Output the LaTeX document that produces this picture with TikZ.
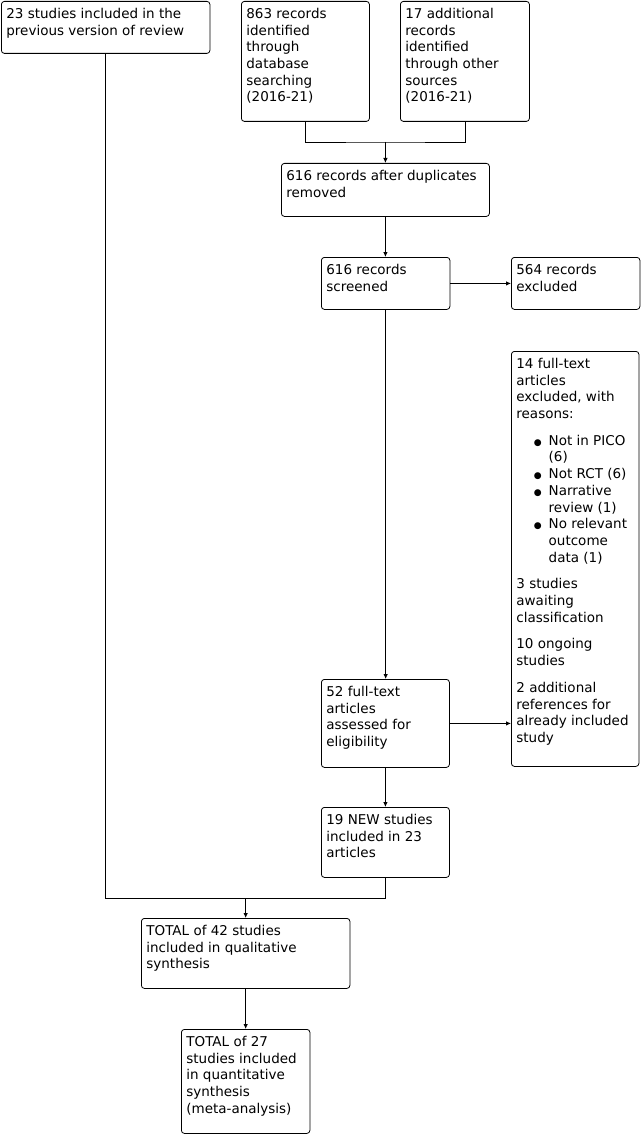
\documentclass[tikz,border=0pt]{standalone}
\usepackage{fontspec}
\setmainfont{DejaVu Sans}
\usetikzlibrary{arrows.meta}
\newcommand{\bxt}[3]{\parbox[c][#2][t]{#1}{\raggedright\leftskip=5pt\relax\rule{0pt}{17pt}#3}}
\newcommand{\bul}{\hspace*{17.5pt}\makebox[14.8pt][l]{{\fontsize{9}{9}\selectfont ●}}}
\newcommand{\bulc}{\hspace*{32.3pt}}
\begin{document}
\begin{tikzpicture}[x=1pt,y=-1pt,
  box/.style={draw, line width=0.8pt, rounded corners=3pt, inner sep=0pt, anchor=north west,
    font=\fontsize{13.5}{16.7}\selectfont},
  arr/.style={line width=0.8pt, -{Latex[length=5pt,width=4.5pt]}},
  ln/.style={line width=0.8pt}]
\useasboundingbox (0,0) rectangle (642,1134);
\node[box] (A) at (1,1) {\bxt{208.5pt}{52pt}{23 studies included in the\\previous version of review}};
\node[box] (B) at (241,1) {\bxt{128pt}{120pt}{863 records\\identified\\through\\database\\searching\\(2016-21)}};
\node[box] (C) at (400,1) {\bxt{129pt}{120pt}{17 additional\\records\\identified\\through other\\sources\\(2016-21)}};
\node[box] (D) at (281,163) {\bxt{208pt}{53pt}{616 records after duplicates\\removed}};
\node[box] (E) at (321,257) {\bxt{128.5pt}{52pt}{616 records\\screened}};
\node[box] (F) at (511,257) {\bxt{128.5pt}{52pt}{564 records\\excluded}};
\node[box] (G) at (511,351) {\bxt{127.5pt}{415pt}{14 full-text\\articles\\excluded, with\\reasons:\\[10pt]
\bul Not in PICO\\\bulc(6)\\
\bul Not RCT (6)\\
\bul Narrative\\\bulc review (1)\\
\bul No relevant\\\bulc outcome\\\bulc data (1)\\[10pt]
3 studies\\awaiting\\classification\\[10pt]
10 ongoing\\studies\\[10pt]
2 additional\\references for\\already included\\study}};
\node[box] (H) at (321,679) {\bxt{128pt}{88pt}{52 full-text\\articles\\assessed for\\eligibility}};
\node[box] (I) at (321,807) {\bxt{128pt}{70pt}{19 NEW studies\\included in 23\\articles}};
\node[box] (J) at (141,918) {\bxt{208.5pt}{70pt}{TOTAL of 42 studies\\included in qualitative\\synthesis}};
\node[box] (K) at (181,1029) {\bxt{128.5pt}{104pt}{TOTAL of 27\\studies included\\in quantitative\\synthesis\\(meta-analysis)}};
\coordinate (m1) at (D.north |- 0,142);
\coordinate (m2) at (J.north |- 0,898);
\draw[ln] (B.south) |- (m1) -| (C.south);
\draw[arr] (m1) -- (D.north);
\draw[arr] (D.south) -- (D.south |- E.north);
\draw[arr] (E.east) -- (F.west |- E.east);
\draw[arr] (E.south) -- (E.south |- H.north);
\draw[arr] (H.east) -- (H.east -| G.west);
\draw[arr] (H.south) -- (H.south |- I.north);
\draw[ln] (A.south) |- (m2) -| (I.south);
\draw[arr] (m2) -- (J.north);
\draw[arr] (J.south) -- (J.south |- K.north);
\end{tikzpicture}
\end{document}
